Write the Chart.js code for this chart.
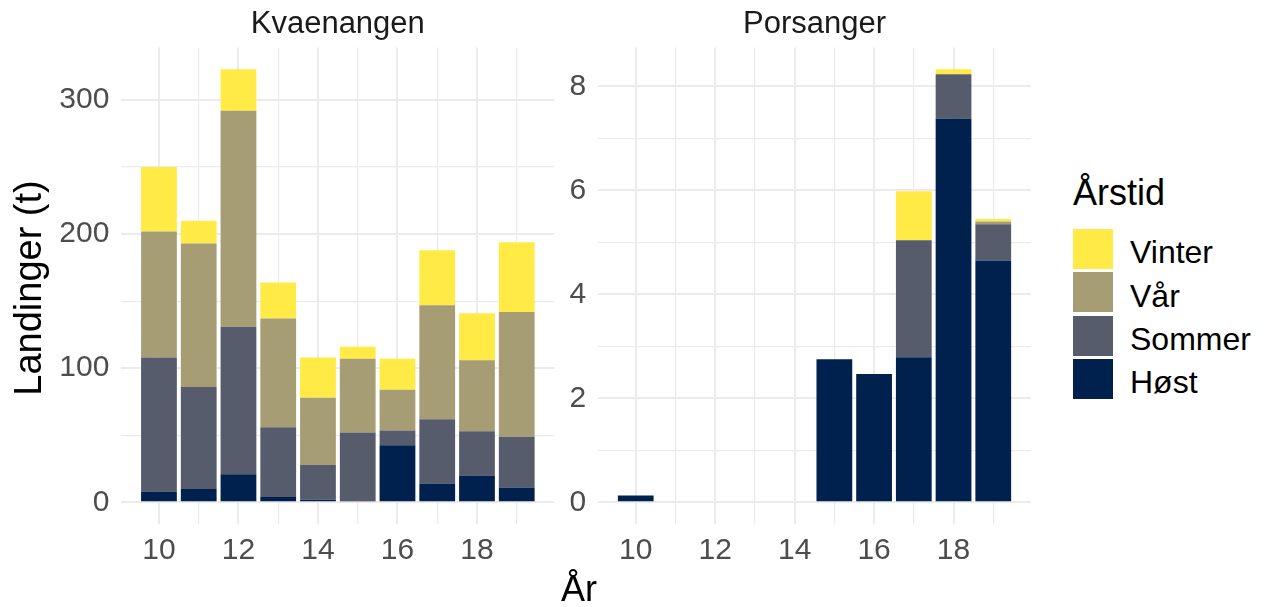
<!DOCTYPE html>
<html>
<head>
<meta charset="utf-8">
<script src="https://cdn.jsdelivr.net/npm/chart.js@4.4.1/dist/chart.umd.min.js"></script>
<style>
  html, body { margin: 0; padding: 0; background: #ffffff; width: 1267px; height: 607px; overflow: hidden; }
  #wrap { position: relative; width: 1267px; height: 607px; font-family: "Liberation Sans", Arial, sans-serif; }
  canvas { position: absolute; top: 0; }
  .t { position: absolute; line-height: 1; white-space: nowrap; }
  .key { position: absolute; width: 40px; height: 40px; }
</style>
</head>
<body>
<div id="wrap">
  <canvas id="kvaenangen" width="560" height="607" style="left:0px;width:560px;height:607px"></canvas>
  <canvas id="porsanger" width="480" height="607" style="left:560px;width:480px;height:607px"></canvas>
</div>
<script>
// Years on the x axis (two-digit, 2010–2019)
const years = [10, 11, 12, 13, 14, 15, 16, 17, 18, 19];
const xTickLabels = [10, 12, 14, 16, 18];

// Seasons, stacked from the bottom up
const seasons = ['Høst', 'Sommer', 'Vår', 'Vinter'];
const seasonColors = ['#00204D', '#575C6D', '#A69D75', '#FFEA46'];
const legendTitle = 'Årstid';

// Kvaenangen landings (tonnes) per season
const kvHost   = [8, 10, 21, 4, 2, 1, 42.5, 14, 20, 11];
const kvSommer = [100, 76, 110, 52, 26, 51, 11, 48, 33, 38];
const kvVar    = [94, 107, 161, 81, 50, 55, 30.5, 85, 53, 93];
const kvVinter = [48, 17, 31, 27, 30, 9, 23, 41, 35, 52];
const kvYTicks = [0, 100, 200, 300];

// Porsanger landings (tonnes) per season; null = no landings that year
const poHost   = [0.13, null, null, null, null, 2.75, 2.47, 2.79, 7.38, 4.65];
const poSommer = [null, null, null, null, null, null, null, 2.25, 0.85, 0.70];
const poVar    = [null, null, null, null, null, null, null, null, null, 0.05];
const poVinter = [null, null, null, null, null, null, null, 0.94, 0.10, 0.05];
const poYTicks = [0, 2, 4, 6, 8];

const TICK_FONT = { family: '"Liberation Sans", Arial, sans-serif', size: 30 };
const TICK_COLOR = '#4D4D4D';
const GRID_COLOR = '#EBEBEB';

function stackTotals(series) {
  return years.map((_, i) => series.reduce((s, arr) => s + (arr[i] || 0), 0));
}

function makePanel(canvasId, series, majorTicks, minorStep, geom) {
  const totals = stackTotals(series);
  const maxTotal = Math.max(...totals);
  const span = years[years.length - 1] - years[0] + 0.9;
  const xMin = years[0] - 0.45 - 0.05 * span;
  const xMax = years[years.length - 1] + 0.45 + 0.05 * span;
  const yTop = majorTicks[majorTicks.length - 1];
  const allY = [];
  for (let v = 0; v <= yTop + 1e-9; v += minorStep) allY.push(+v.toFixed(6));
  const isMajorY = v => majorTicks.includes(v);
  const isMajorX = v => xTickLabels.includes(v);

  return new Chart(document.getElementById(canvasId), {
    type: 'bar',
    data: {
      labels: years,
      datasets: seasons.map((name, k) => ({
        label: name,
        data: series[k],
        backgroundColor: seasonColors[k],
        borderWidth: 0,
        barPercentage: 0.9,
        categoryPercentage: 1.0
      }))
    },
    options: {
      responsive: false,
      animation: false,
      events: [],
      layout: { padding: { left: 0, top: geom.top, right: geom.right, bottom: 0 } },
      plugins: { legend: { display: false }, tooltip: { enabled: false }, title: { display: false } },
      scales: {
        x: {
          type: 'linear',
          stacked: true,
          offset: false,
          min: xMin,
          max: xMax,
          afterBuildTicks: s => { s.ticks = years.map(v => ({ value: v })); },
          afterFit: s => { s.height = geom.xAxisHeight; },
          border: { display: false },
          grid: {
            offset: false,
            drawTicks: false,
            color: GRID_COLOR,
            lineWidth: c => (c.tick && isMajorX(c.tick.value)) ? 2 : 1.2
          },
          ticks: {
            autoSkip: false,
            maxRotation: 0,
            padding: geom.xPad,
            font: TICK_FONT,
            color: TICK_COLOR,
            callback: v => isMajorX(v) ? String(v) : ''
          }
        },
        y: {
          type: 'linear',
          stacked: true,
          min: -0.05 * maxTotal,
          max: 1.05 * maxTotal,
          afterBuildTicks: s => { s.ticks = allY.map(v => ({ value: v })); },
          afterFit: s => { s.width = geom.yAxisWidth; },
          border: { display: false },
          grid: {
            drawTicks: false,
            color: GRID_COLOR,
            lineWidth: c => (c.tick && isMajorY(c.tick.value)) ? 2 : 1.2
          },
          ticks: {
            autoSkip: false,
            padding: 12,
            font: TICK_FONT,
            color: TICK_COLOR,
            callback: v => isMajorY(v) ? String(v) : ''
          }
        }
      }
    }
  });
}

makePanel('kvaenangen', [kvHost, kvSommer, kvVar, kvVinter], kvYTicks, 50,
  { top: 47.5, right: 560 - 554.3, yAxisWidth: 121.4, xAxisHeight: 83, xPad: 9 });
makePanel('porsanger', [poHost, poSommer, poVar, poVinter], poYTicks, 1,
  { top: 47.5, right: 480 - 470.8, yAxisWidth: 38.2, xAxisHeight: 83, xPad: 9 });

// Text placed by baseline (Liberation Sans, line-height 1)
const wrap = document.getElementById('wrap');
function addText(str, x, baseline, size, opts = {}) {
  const d = document.createElement('div');
  d.className = 't';
  d.textContent = str;
  d.style.fontSize = size + 'px';
  d.style.color = opts.color || '#000000';
  d.style.top = (baseline - 0.8465 * size) + 'px';
  if (opts.align === 'center') {
    d.style.left = (x - 300) + 'px';
    d.style.width = '600px';
    d.style.textAlign = 'center';
  } else {
    d.style.left = x + 'px';
  }
  wrap.appendChild(d);
  return d;
}

// Panel strip titles
addText('Kvaenangen', 337.8, 33, 31, { align: 'center', color: '#1A1A1A' });
addText('Porsanger', 814.5, 33, 31, { align: 'center', color: '#1A1A1A' });

// Axis titles
addText('År', 579, 601.7, 36, { align: 'center' });
const yTitle = document.createElement('div');
yTitle.className = 't';
yTitle.textContent = 'Landinger (t)';
yTitle.style.fontSize = '38px';
yTitle.style.width = '400px';
yTitle.style.height = '38px';
yTitle.style.textAlign = 'center';
yTitle.style.left = (27.8 - 200) + 'px';
yTitle.style.top = (288 - 19) + 'px';
yTitle.style.transform = 'rotate(-90deg)';
yTitle.style.transformOrigin = '50% 50%';
wrap.appendChild(yTitle);

// Legend: title, then keys from top (Vinter) to bottom (Høst)
addText(legendTitle, 1073, 205, 36);
const legendOrder = [3, 2, 1, 0];
legendOrder.forEach((k, row) => {
  const top = 229 + row * 43.3;
  const key = document.createElement('div');
  key.className = 'key';
  key.style.left = '1073px';
  key.style.top = top + 'px';
  key.style.background = seasonColors[k];
  wrap.appendChild(key);
  addText(seasons[k], 1130, top + 20 + 14.3, 32);
});
</script>
</body>
</html>
